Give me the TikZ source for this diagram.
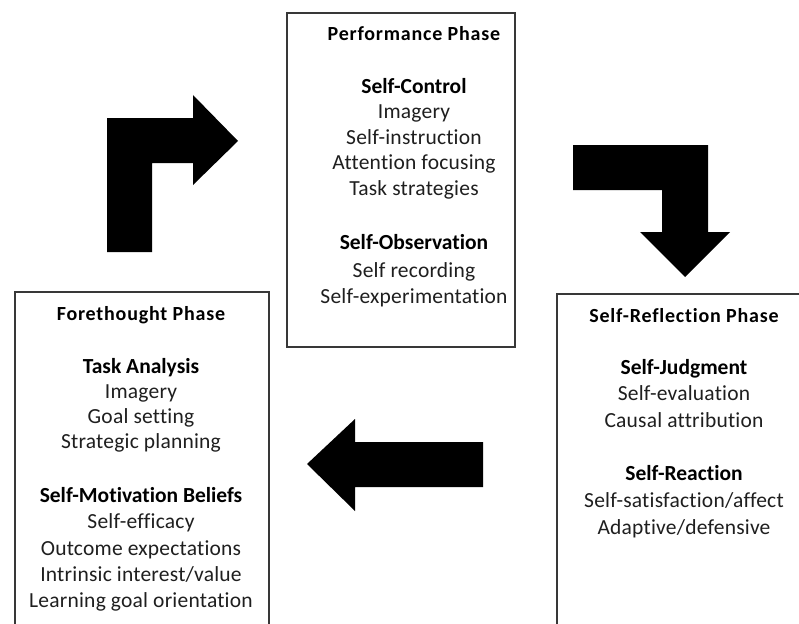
\documentclass[tikz,border=0pt]{standalone}
\usepackage{fontspec}
\setmainfont{Carlito}[Ligatures=NoCommon]
\begin{document}
\begin{tikzpicture}[x=1pt,y=-1pt,
  frame/.style={draw=black!78,line width=1.4pt},
  blockarrow/.style={fill=black,draw=none},
  phase/.style={anchor=base,inner sep=0pt,font=\fontsize{20}{24}\selectfont\bfseries\addfontfeature{LetterSpace=4}},
  head/.style={anchor=base,inner sep=0pt,font=\fontsize{21.5}{26}\selectfont\bfseries},
  item/.style={anchor=base,inner sep=0pt,text=black!88,font=\fontsize{21.5}{26}\selectfont\addfontfeature{LetterSpace=1}}]
\useasboundingbox (0,0) rectangle (799,623);
\clip (0,0) rectangle (799,623);
\fill[white] (0,0) rectangle (799,623);

% phase frames
\draw[frame] (287,13) rectangle (515,347);
\draw[frame] (15,292) rectangle (269,640);
\draw[frame] (557,294) rectangle (820,640);

% bent arrow, up then right
\path[blockarrow] (107,252) -- (107,118) -- (193,118) -- (193,95) -- (238,141)
  -- (193,185) -- (193,163) -- (152,163) -- (152,252) -- cycle;
% bent arrow, right then down
\path[blockarrow] (573,145) -- (708,145) -- (708,232) -- (730,232) -- (685,277)
  -- (640,232) -- (662,232) -- (662,190) -- (573,190) -- cycle;
% straight arrow, pointing left
\path[blockarrow] (483,442) -- (355,442) -- (355,419) -- (307,464) -- (355,511)
  -- (355,487) -- (483,487) -- cycle;

% performance phase
\node[phase] (pTitle) at (414,41) {Performance Phase};
\node[head] (pCtl) at (414,93) {Self-Control};
\node[item] (pC1) at (414,118) {Imagery};
\node[item] (pC2) at (414,144) {Self-instruction};
\node[item] (pC3) at (414,169) {Attention focusing};
\node[item] (pC4) at (414,195) {Task strategies};
\node[head] (pObs) at (414,249) {Self-Observation};
\node[item] (pO1) at (414,277) {Self recording};
\node[item] (pO2) at (414,303) {Self-experimentation};

% forethought phase
\node[phase] (fTitle) at (141,320) {Forethought Phase};
\node[head] (fTask) at (141,373) {Task Analysis};
\node[item] (fT1) at (141,398) {Imagery};
\node[item] (fT2) at (141,423) {Goal setting};
\node[item] (fT3) at (141,448) {Strategic planning};
\node[head] (fMot) at (141,502) {Self-Motivation Beliefs};
\node[item] (fM1) at (141,528) {Self-efficacy};
\node[item] (fM2) at (141,555) {Outcome expectations};
\node[item] (fM3) at (141,581) {Intrinsic interest/value};
\node[item] (fM4) at (141,607) {Learning goal orientation};

% self-reflection phase
\node[phase] (rTitle) at (684,322) {Self-Reflection Phase};
\node[head] (rJud) at (684,374) {Self-Judgment};
\node[item] (rJ1) at (684,400) {Self-evaluation};
\node[item] (rJ2) at (684,427) {Causal attribution};
\node[head] (rRea) at (684,480) {Self-Reaction};
\node[item] (rR1) at (684,507) {Self-satisfaction/affect};
\node[item] (rR2) at (684,534) {Adaptive/defensive};
\end{tikzpicture}
\end{document}
